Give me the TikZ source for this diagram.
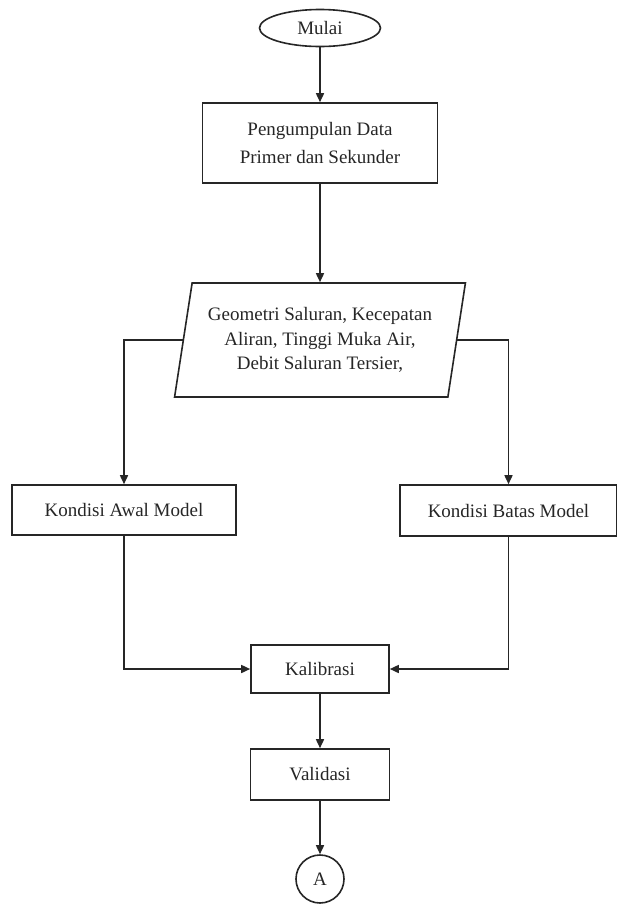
\documentclass[tikz,border=0pt]{standalone}
\usepackage{fontspec}
\setmainfont{Liberation Serif}
\usetikzlibrary{positioning,arrows.meta,shapes.geometric}

\begin{document}
\begin{tikzpicture}[
  x=1pt, y=-1pt,
  every node/.style={font=\fontsize{19}{24.5}\selectfont, text=black!85},
  stepbox/.style={draw=black!85, line width=1.6pt, rectangle, align=center, inner sep=0pt},
  flow/.style={draw=black!85, line width=1.6pt, -{Triangle[length=9pt,width=8pt]}}
]
  \useasboundingbox (0,0) rectangle (617,906);

  % --- Start and data collection ---
  \node[stepbox, ellipse, minimum width=121pt, minimum height=37pt] (mulai) at (320,28) {Mulai};
  \node[stepbox, minimum width=235pt, minimum height=80pt,
        font=\fontsize{19}{28}\selectfont] (kumpul) at (320,143)
    {Pengumpulan Data\\Primer dan Sekunder};

  % --- Input data (parallelogram) ---
  \node[stepbox, trapezium, trapezium left angle=76.7, trapezium right angle=103.3,
        trapezium stretches=true, minimum width=292pt, minimum height=114pt] (data) at (320,340)
    {Geometri Saluran, Kecepatan\\Aliran, Tinggi Muka Air,\\Debit Saluran Tersier,};

  % --- Model conditions ---
  \node[stepbox, minimum width=224pt, minimum height=50pt] (awal) at (124,510) {Kondisi Awal Model};
  \node[stepbox, minimum width=217pt, minimum height=51pt] (batas) at (508.5,510.5) {Kondisi Batas Model};

  % --- Calibration, validation, connector ---
  \node[stepbox, minimum width=138pt, minimum height=48pt] (kalibrasi) at (320,669) {Kalibrasi};
  \node[stepbox, minimum width=139pt, minimum height=51pt] (validasi) at (320,774.5) {Validasi};
  \node[stepbox, circle, minimum size=48pt] (konektor) at (320,879) {A};

  % --- Arrows ---
  \draw[flow] (mulai) -- (kumpul);
  \draw[flow] (kumpul) -- (data);
  \draw[flow] (data.west) -| (awal.north);
  \draw[flow] (data.east) -| (batas.north);
  \draw[flow] (awal.south) |- (kalibrasi.west);
  \draw[flow] (batas.south) |- (kalibrasi.east);
  \draw[flow] (kalibrasi) -- (validasi);
  \draw[flow] (validasi) -- (konektor);

\end{tikzpicture}
\end{document}
